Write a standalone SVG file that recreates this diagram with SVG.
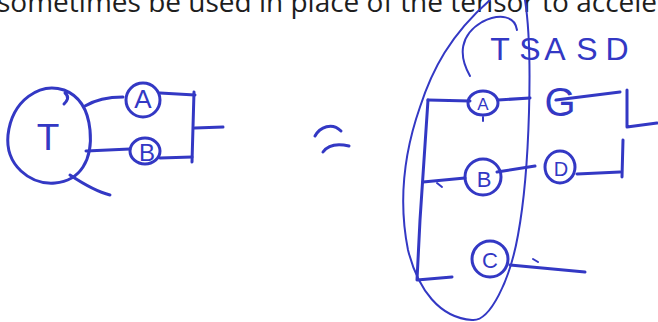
<svg xmlns="http://www.w3.org/2000/svg" width="658" height="322" viewBox="0 0 658 322">
<style>
.ink{fill:none;stroke:#3338c4;stroke-width:3;stroke-linecap:round;stroke-linejoin:round}
.thin{fill:none;stroke:#3338c4;stroke-width:2;stroke-linecap:round}
.lbl{font-family:"Liberation Sans",Arial,sans-serif;fill:#3338c4;text-anchor:middle}
.top{font-family:"Open Sans","Liberation Sans",sans-serif;font-size:28px;fill:#1e1e1e}
</style>
<rect width="658" height="322" fill="#fff"/>
<text class="top" x="-3" y="12">sometimes be used in place of the tensor to accele</text>

<g id="left-figure">
  <g id="node-T">
    <path class="ink" d="M65 93 C70 97 67 101 64 104 M64 90 C40 82 12 100 8 135 C5 165 30 185 55 183 C80 181 93 160 90 130 C88 110 80 96 64 90"/>
    <text class="lbl" x="48" y="150" font-size="37">T</text>
  </g>
  <g id="node-A">
    <ellipse class="ink" cx="143" cy="100" rx="17" ry="17"/>
    <text class="lbl" x="143" y="108" font-size="26">A</text>
  </g>
  <g id="node-B">
    <ellipse class="ink" cx="145" cy="151" rx="15" ry="13"/>
    <text class="lbl" x="147" y="161" font-size="24">B</text>
  </g>
  <g id="bar-left">
    <path class="ink" d="M194 92 L192 162 M195 128 L223 127"/>
  </g>
</g>

<g id="approx">
  <path class="ink" d="M315 136 C320 127 332 122 341 131 M323 152 C328 145 336 143 349 146"/>
</g>

<g id="right-figure">
  <g id="group-ellipse">
    <path class="thin" d="M525 0 C533 50 530 170 518 235 C510 280 490 322 472 320 C440 318 418 290 408 250 C398 200 405 150 420 107 C432 70 450 35 490 0"/>
    <path class="thin" d="M470 76 C458 55 460 35 482 22 C500 13 515 16 517 30"/>
    <text class="lbl" font-size="32" x="500 530 555 587 617" y="60">TSASD</text>
  </g>
  <g id="bracket">
    <path class="ink" d="M428 100 L420 220 L417 280 L452 277"/>
  </g>
  <g id="node-A2">
    <ellipse class="ink" cx="483" cy="103" rx="15" ry="12"/>
    <text class="lbl" x="483" y="110" font-size="17">A</text>
    <path class="thin" d="M483 117 L483 121"/>
  </g>
  <g id="node-G">
    <text class="lbl" x="560" y="116" font-size="40">G</text>
  </g>
  <g id="node-B2">
    <ellipse class="ink" cx="483" cy="177" rx="18" ry="18"/>
    <text class="lbl" x="484" y="187" font-size="22">B</text>
  </g>
  <g id="node-D">
    <ellipse class="ink" cx="560" cy="167" rx="15" ry="16"/>
    <text class="lbl" x="561" y="176" font-size="20">D</text>
  </g>
  <g id="node-C">
    <ellipse class="ink" cx="490" cy="259" rx="18" ry="18"/>
    <text class="lbl" x="490" y="268" font-size="22">C</text>
  </g>
  <g id="bar-right">
    <path class="ink" d="M627 90 L627 127 L657 123 M623 140 L622 177"/>
  </g>
</g>

<g id="connectors">
  <path class="ink" d="M85 106 C95 100 108 97 123 97"/>
  <path class="ink" d="M160 93 L195 95"/>
  <path class="ink" d="M86 151 L130 149"/>
  <path class="ink" d="M160 158 L192 157"/>
  <path class="ink" d="M70 175 C85 185 98 192 110 195"/>
  <path class="ink" d="M428 100 L470 101"/>
  <path class="ink" d="M498 100 L530 98"/>
  <path class="ink" d="M556 100 L620 92"/>
  <path class="ink" d="M423 182 L465 178"/>
  <path class="thin" d="M437 183 L442 187"/>
  <path class="ink" d="M497 172 L535 166"/>
  <path class="ink" d="M577 174 L620 172"/>
  <path class="ink" d="M510 265 L585 272"/>
  <path class="thin" d="M533 259 L538 262"/>
</g>
</svg>
